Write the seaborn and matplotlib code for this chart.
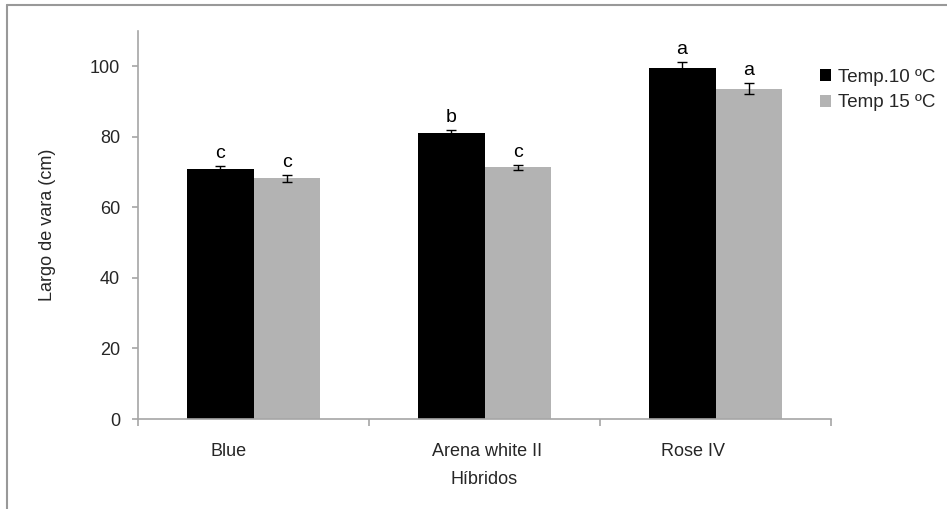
import matplotlib
matplotlib.use("Agg")
import matplotlib.pyplot as plt
import matplotlib.transforms as mtransforms
from matplotlib.lines import Line2D
from matplotlib.patches import Patch
import seaborn as sns
import pandas as pd

# Stem length by hybrid and growing temperature
hybrids = ["Blue", "Arena white II", "Rose IV"]
temps = ["Temp.10 ºC", "Temp 15 ºC"]
length_10 = [70.8, 81.1, 99.5]
length_15 = [68.2, 71.4, 93.6]
err_10 = [0.8, 0.9, 1.6]
err_15 = [0.9, 0.7, 1.6]
letters_10 = ["c", "b", "a"]
letters_15 = ["c", "c", "a"]

sns.set_theme(style="white")
plt.rcParams["font.family"] = ["Liberation Sans", "DejaVu Sans"]

df = pd.DataFrame({
    "Híbridos": hybrids * 2,
    "Temp": [temps[0]] * 3 + [temps[1]] * 3,
    "Largo": length_10 + length_15,
})

fig = plt.figure(figsize=(9.47, 5.09), dpi=100)
W, H = 947, 509
ax = fig.add_axes([138 / W, 1 - 419 / H, (831 - 138) / W, (419 - 31) / H])

palette = {temps[0]: "#000000", temps[1]: "#B3B3B3"}
sns.barplot(data=df, x="Híbridos", y="Largo", hue="Temp", order=hybrids,
            hue_order=temps, palette=palette, width=0.58, errorbar=None,
            saturation=1, ax=ax, legend=False, linewidth=0)

errs = [err_10, err_15]
vals = [length_10, length_15]
lets = [letters_10, letters_15]
for cont, v, e, l in zip(ax.containers, vals, errs, lets):
    xs = [b.get_x() + b.get_width() / 2 for b in cont]
    ax.errorbar(xs, v, yerr=e, fmt="none", ecolor="black", elinewidth=1,
                capsize=3.5, capthick=1)
    for x, val, er, let in zip(xs, v, e, l):
        ax.annotate(let, (x, val + er), xytext=(0, 3), textcoords="offset points",
                    ha="center", va="bottom", fontsize=14, color="black")

ax.set_xlim(-0.5, 2.5)
ax.set_ylim(0, 110)
ax.set_yticks([0, 20, 40, 60, 80, 100])
ax.set_xticks([0, 1, 2])
ax.set_xticks([-0.5, 0.5, 1.5, 2.5], minor=True)
ax.set_xticklabels(hybrids)

axis_gray = "#A6A6A6"
for side in ["top", "right"]:
    ax.spines[side].set_visible(False)
for side in ["left", "bottom"]:
    ax.spines[side].set_color(axis_gray)
    ax.spines[side].set_linewidth(1.2)

ax.tick_params(axis="y", which="major", direction="out", length=4, width=1.2,
               color=axis_gray, labelsize=13, pad=9, left=True)
ax.tick_params(axis="x", which="major", length=0, labelsize=13, pad=17)
ax.tick_params(axis="x", which="minor", direction="out", length=5, width=1.2,
               color=axis_gray, bottom=True)

# Category labels sit slightly left of the group centres
shifts = [-25, 3, -23]
for lab, dx in zip(ax.get_xticklabels(), shifts):
    lab.set_transform(lab.get_transform() +
                      mtransforms.ScaledTranslation(dx / 100, 0, fig.dpi_scale_trans))

ax.set_xlabel("Híbridos", fontsize=13, labelpad=8)
ax.set_ylabel("Largo de vara (cm)", fontsize=13, labelpad=24)

handles = [Patch(facecolor=palette[t], edgecolor="none") for t in temps]
fig.legend(handles, temps, loc="upper left", bbox_to_anchor=(820 / W, 1 - 69 / H),
           frameon=False, fontsize=13.5, handlelength=0.6, handleheight=0.6,
           handletextpad=0.35, labelspacing=0.45, borderaxespad=0, borderpad=0)

# Chart-area frame
frame_col = "#999999"
fig.add_artist(Line2D([7 / W, 1], [1 - 5 / H, 1 - 5 / H], color=frame_col,
                      linewidth=1.5, transform=fig.transFigure))
fig.add_artist(Line2D([7 / W, 7 / W], [0, 1 - 5 / H], color=frame_col,
                      linewidth=1.5, transform=fig.transFigure))

fig.savefig("out.png", dpi=100)
